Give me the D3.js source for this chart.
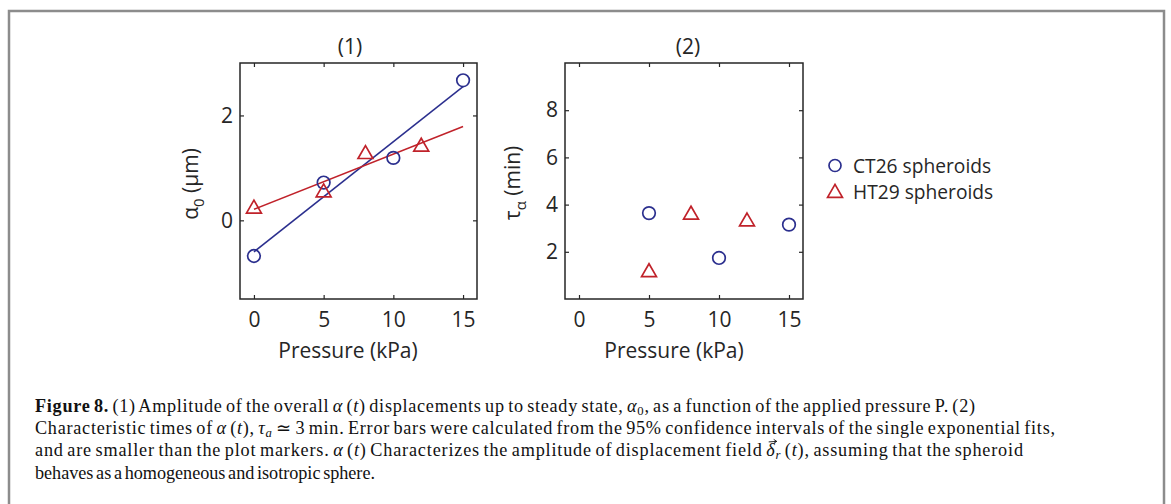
<!DOCTYPE html>
<html><head><meta charset="utf-8">
<script src="https://cdn.jsdelivr.net/npm/d3@7/dist/d3.min.js"></script>
<style>
body{margin:0;background:#fff;}
svg{display:block;}
.ax text{font-family:"Open Sans",sans-serif;fill:#262626;}
.cap{font-family:"Liberation Serif",serif;fill:#111;}
</style></head>
<body>
<svg id="c" width="1171" height="504"></svg>
<script>
// ---- data ----
const pressureTicks = [0, 5, 10, 15];
const amplitudeTicks = [0, 2];
const timeTicks = [2, 4, 6, 8];
const seriesNames = ["CT26 spheroids", "HT29 spheroids"];
// panel (1): amplitude alpha_0 (µm) vs pressure (kPa)
const ct26AmpP = [0, 5, 10, 15];
const ct26Amp  = [-0.68, 0.72, 1.19, 2.67];
const ht29AmpP = [0, 5, 8, 12];
const ht29Amp  = [0.24, 0.55, 1.28, 1.42];
// linear fits (end points)
const ct26FitP = [0, 15];
const ct26Fit  = [-0.60, 2.55];
const ht29FitP = [0, 15];
const ht29Fit  = [0.21, 1.79];
// panel (2): characteristic time tau (min) vs pressure (kPa)
const ct26TauP = [5, 10, 15];
const ct26Tau  = [3.64, 1.74, 3.15];
const ht29TauP = [5, 8, 12];
const ht29Tau  = [1.17, 3.61, 3.32];

const BLUE = "#2b2f8e", RED = "#c0222a", AX = "#262626";
const FS = 21;
const svg = d3.select("#c");

// outer frame
svg.append("rect").attr("x", 9).attr("y", 11).attr("width", 1155).attr("height", 520)
  .attr("fill", "none").attr("stroke", "#8c8c8c").attr("stroke-width", 2.5);

const tri = d3.symbol().type(d3.symbolTriangle).size(96);

function panel(opt) {
  const g = svg.append("g").attr("class", "ax");
  const x = d3.scaleLinear().domain([-1, 16]).range([opt.x0, opt.x1]);
  const y = d3.scaleLinear().domain(opt.ydom).range([opt.y1, opt.y0]);
  const tl = 4, fmt = d3.format("d");
  const axB = d3.axisBottom(x).tickValues(pressureTicks).tickSize(-tl).tickPadding(13).tickFormat(fmt);
  const axT = d3.axisTop(x).tickValues(pressureTicks).tickSize(-tl).tickFormat("");
  const axL = d3.axisLeft(y).tickValues(opt.yticks).tickSize(-tl).tickPadding(7).tickFormat(fmt);
  const axR = d3.axisRight(y).tickValues(opt.yticks).tickSize(-tl).tickFormat("");
  const gb = g.append("g").attr("transform", `translate(0,${opt.y1})`).call(axB);
  const gt = g.append("g").attr("transform", `translate(0,${opt.y0})`).call(axT);
  const gl = g.append("g").attr("transform", `translate(${opt.x0},0)`).call(axL);
  const gr = g.append("g").attr("transform", `translate(${opt.x1},0)`).call(axR);
  [gb, gt, gl, gr].forEach(a => {
    a.select(".domain").remove();
    a.selectAll("line").attr("stroke", AX).attr("stroke-width", 1.2);
    a.selectAll("text").attr("font-size", FS).attr("fill", AX).attr("font-family", '"Open Sans",sans-serif');
  });
  g.append("rect").attr("x", opt.x0).attr("y", opt.y0)
    .attr("width", opt.x1 - opt.x0).attr("height", opt.y1 - opt.y0)
    .attr("fill", "none").attr("stroke", AX).attr("stroke-width", 1.5);
  g.append("text").attr("x", opt.titleX).attr("y", 54).attr("text-anchor", "middle")
    .attr("font-size", FS).text(opt.title);
  g.append("text").attr("x", opt.xlabX).attr("y", 358).attr("text-anchor", "middle")
    .attr("font-size", FS).text("Pressure (kPa)");
  const yl = g.append("text").attr("transform", `translate(${opt.ylx},${opt.yly}) rotate(-90)`)
    .attr("text-anchor", "middle").attr("font-size", FS);
  opt.ylabel(yl);
  return {g, x, y};
}

// panel 1
const p1 = panel({x0: 240, x1: 477, y0: 63, y1: 299, ydom: [-1.5, 3], yticks: amplitudeTicks,
  title: "(1)", titleX: 350, xlabX: 348, ylx: 198, yly: 184,
  ylabel: t => { t.append("tspan").text("α"); t.append("tspan").attr("font-size", 15).attr("dy", 6).text("0");
                 t.append("tspan").attr("dy", -6).text(" (μm)"); }});
p1.g.append("line").attr("x1", p1.x(ct26FitP[0])).attr("y1", p1.y(ct26Fit[0]))
  .attr("x2", p1.x(ct26FitP[1])).attr("y2", p1.y(ct26Fit[1])).attr("stroke", BLUE).attr("stroke-width", 1.5);
p1.g.append("line").attr("x1", p1.x(ht29FitP[0])).attr("y1", p1.y(ht29Fit[0]))
  .attr("x2", p1.x(ht29FitP[1])).attr("y2", p1.y(ht29Fit[1])).attr("stroke", RED).attr("stroke-width", 1.5);

function markers(p, px, py, kind, color) {
  const d = px.map((v, i) => [v, py[i]]);
  if (kind === "c") {
    p.g.selectAll(null).data(d).enter().append("circle")
      .attr("cx", e => p.x(e[0])).attr("cy", e => p.y(e[1])).attr("r", 6.3)
      .attr("fill", "none").attr("stroke", color).attr("stroke-width", 1.7);
  } else {
    p.g.selectAll(null).data(d).enter().append("path").attr("d", tri)
      .attr("transform", e => `translate(${p.x(e[0])},${p.y(e[1]) + 1})`)
      .attr("fill", "none").attr("stroke", color).attr("stroke-width", 1.7);
  }
}
markers(p1, ct26AmpP, ct26Amp, "c", BLUE);
markers(p1, ht29AmpP, ht29Amp, "t", RED);

// panel 2
const p2 = panel({x0: 565, x1: 803, y0: 63, y1: 299, ydom: [0, 10], yticks: timeTicks,
  title: "(2)", titleX: 688, xlabX: 674, ylx: 520, yly: 183,
  ylabel: t => { t.append("tspan").text("τ"); t.append("tspan").attr("font-size", 15).attr("dy", 6).text("α");
                 t.append("tspan").attr("dy", -6).text(" (min)"); }});
markers(p2, ct26TauP, ct26Tau, "c", BLUE);
markers(p2, ht29TauP, ht29Tau, "t", RED);

// legend
const lg = svg.append("g").attr("class", "ax");
seriesNames.forEach((n, i) => {
  const cy = 165.5 + i * 26.5;
  if (i === 0) lg.append("circle").attr("cx", 835).attr("cy", cy).attr("r", 6).attr("fill", "none").attr("stroke", BLUE).attr("stroke-width", 1.7);
  else lg.append("path").attr("d", tri).attr("transform", `translate(835,${cy + 1})`).attr("fill", "none").attr("stroke", RED).attr("stroke-width", 1.7);
  lg.append("text").attr("x", 853).attr("y", cy + 7.3).attr("font-size", 19.2).text(n);
});

// caption
const cap = svg.append("g").attr("class", "cap");
const lines = [
  {w: 940, parts: [["Figure 8.", "b"], [" (1) Amplitude of the overall "], ["α", "i"], [" ("], ["t", "i"], [") displacements up to steady state, "], ["α", "i"], ["0", "sub"], [", as a function of the applied pressure P. (2)"]]},
  {w: 1020, parts: [["Characteristic times of "], ["α", "i"], [" ("], ["t", "i"], ["), "], ["τ", "i"], ["a", "isub"], [" ≃ 3 min. Error bars were calculated from the 95% confidence intervals of the single exponential fits,"]]},
  {w: 988, parts: [["and are smaller than the plot markers. "], ["α", "i"], [" ("], ["t", "i"], [") Characterizes the amplitude of displacement field "], ["δ", "vec"], ["r", "isub"], [" ("], ["t", "i"], ["), assuming that the spheroid"]]},
  {w: 340, parts: [["behaves as a homogeneous and isotropic sphere."]]}
];
const cfs = 18.2;
const vecNodes = [];
lines.forEach((ln, i) => {
  const t = cap.append("text").attr("x", 35).attr("y", 412 + i * 22.2).attr("font-size", cfs)
    .attr("word-spacing", -1.8)
    .attr("textLength", ln.w).attr("lengthAdjust", "spacing");
  let sub = false;
  ln.parts.forEach(p => {
    const s = t.append("tspan").text(p[0]);
    const k = p[1] || "";
    if (k === "b") s.attr("font-weight", "bold");
    if (k === "i" || k === "isub" || k === "vec") s.attr("font-style", "italic");
    if (k === "vec") vecNodes.push(s.node());
    if (k === "sub" || k === "isub") { s.attr("font-size", cfs * 0.7).attr("dy", 3); sub = true; }
    else if (sub) { s.attr("dy", -3); sub = false; }
  });
});
// vector arrow above delta
vecNodes.forEach(n => {
  const b = n.getBBox();
  const ax0 = b.x + 2.5, ax1 = b.x + b.width + 1.5, ay = b.y + 1.5;
  cap.append("line").attr("x1", ax0).attr("y1", ay).attr("x2", ax1).attr("y2", ay - 0.5)
    .attr("stroke", "#111").attr("stroke-width", 0.9);
  cap.append("path").attr("d", `M${ax1 - 3},${ay - 2.5} L${ax1},${ay - 0.5} L${ax1 - 3},${ay + 1.5}`)
    .attr("fill", "none").attr("stroke", "#111").attr("stroke-width", 0.9);
});
</script>
</body></html>
